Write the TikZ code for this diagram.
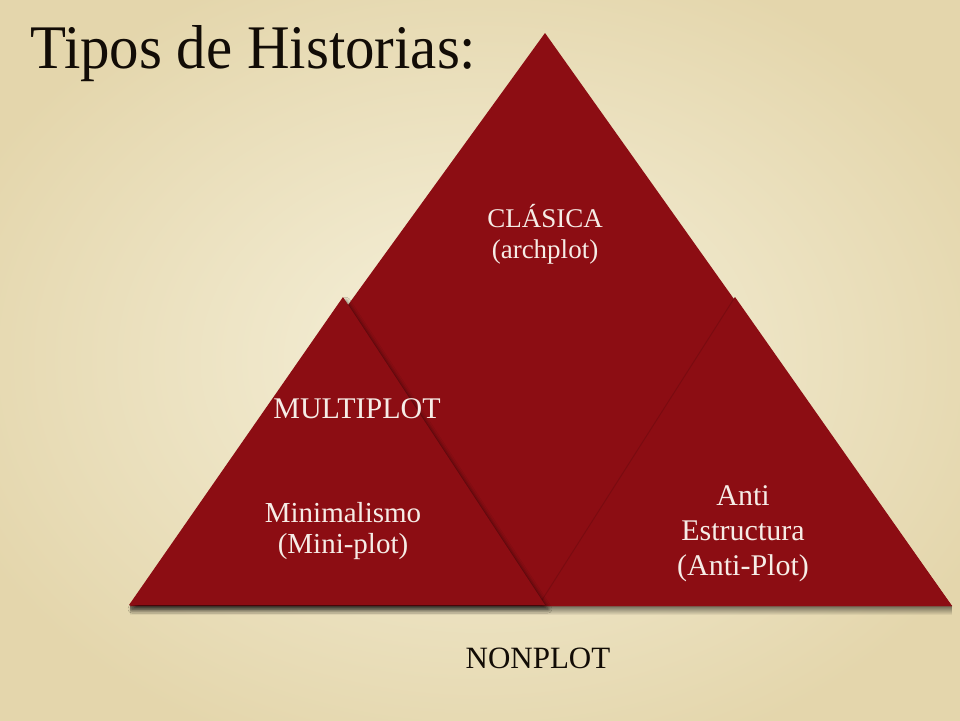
\documentclass[tikz,border=0pt]{standalone}
\usepackage{fontspec}
\setmainfont{Liberation Serif}
\usetikzlibrary{shadows.blur,fadings}
\definecolor{parch}{RGB}{246,241,219}
\definecolor{parchdark}{RGB}{228,214,172}
\definecolor{plotred}{RGB}{140,13,19}
\definecolor{inkw}{RGB}{246,236,230}
\definecolor{inkb}{RGB}{18,12,6}
\tikzset{
  tri/.style={fill=plotred, draw=none},
  redlabel/.style={anchor=base, text=inkw, inner sep=0pt},
  blacklabel/.style={anchor=base, text=inkb, inner sep=0pt}
}
\begin{document}
\begin{tikzpicture}[x=1pt,y=-1pt]
\useasboundingbox (0,0) rectangle (960,720);
\shade[inner color=parch, outer color=parchdark] (-80,-60) rectangle (1040,780);
% base shadow
\fill[black, opacity=0.55, path fading=south] (130,605) rectangle (953,615);
% big triangle
\fill[tri] (545,33) -- (952,606) -- (130,606) -- cycle;
% right triangle
\fill[tri] (735,297) -- (952,606) -- (540,606) -- cycle;
\draw[black, opacity=0.12, line width=1pt] (735,297) -- (542,600);
% left triangle
\fill[tri, blur shadow={shadow xshift=3pt, shadow yshift=-4pt, shadow blur radius=4pt, shadow opacity=60}] (343,297) -- (545,605) -- (129,605) -- cycle;
% title
\node[blacklabel, anchor=base west] (title) at (30,68) {\fontsize{62}{62}\selectfont\scalebox{0.95}[1]{Tipos de Historias:}};
% labels
\node[redlabel, font=\fontsize{27}{31}\selectfont] (cl1) at (545,227) {CLÁSICA};
\node[redlabel, font=\fontsize{27}{31}\selectfont] (cl2) at (545,258) {(archplot)};
\node[redlabel, font=\fontsize{30}{31}\selectfont] (mp) at (357,418) {MULTIPLOT};
\node[redlabel, font=\fontsize{29}{31}\selectfont] (mi1) at (343,522) {Minimalismo};
\node[redlabel, font=\fontsize{29}{31}\selectfont] (mi2) at (343,553) {(Mini-plot)};
\node[redlabel, font=\fontsize{30}{35}\selectfont] (an1) at (743,505) {Anti};
\node[redlabel, font=\fontsize{30}{35}\selectfont] (an2) at (743,540) {Estructura};
\node[redlabel, font=\fontsize{30}{35}\selectfont] (an3) at (743,575) {(Anti-Plot)};
\node[blacklabel, font=\fontsize{31}{35}\selectfont] (np) at (538,668) {NONPLOT};
\end{tikzpicture}
\end{document}
